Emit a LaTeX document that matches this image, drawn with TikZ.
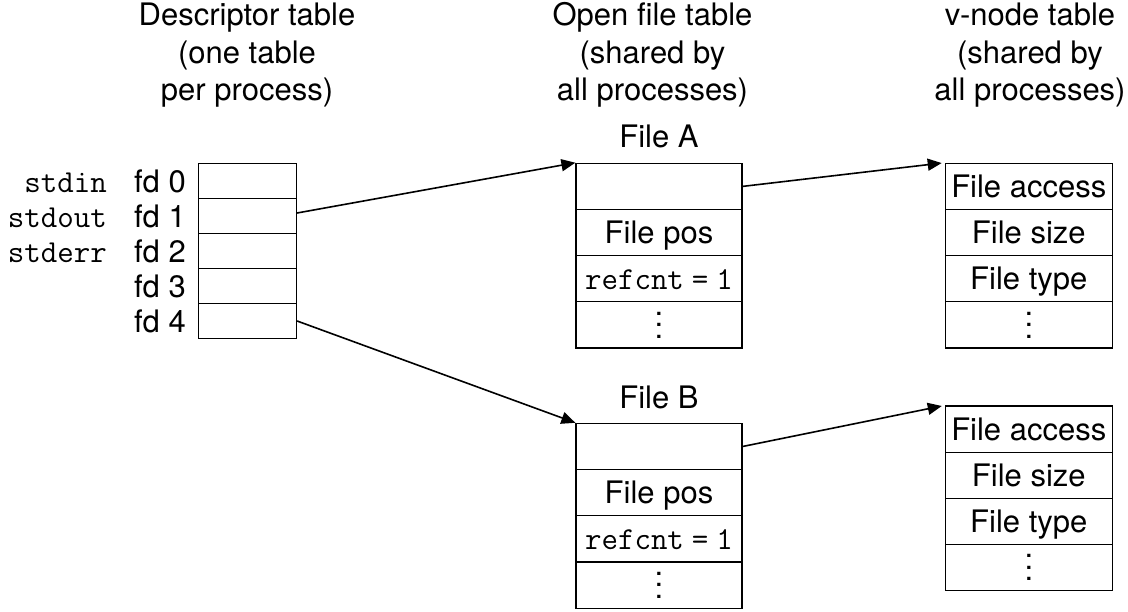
\documentclass[tikz,border=0pt]{standalone}
\usepackage{fontspec}
\setmainfont{TeX Gyre Heros}
\usetikzlibrary{arrows.meta}
% three stacked dots for the "more entries" rows
\newcommand{\moredots}{\vbox{\baselineskip=11.5pt\lineskiplimit=-20pt\hbox{.}\hbox{.}\hbox{.}}}
\newcommand{\bodyfont}{\fontsize{31}{37.5}\selectfont}
\newcommand{\codefont}{\fontsize{32}{37.5}\selectfont\ttfamily}
\newcommand{\refcount}{refcnt\kern8pt=\kern8pt1}

\begin{document}
\begin{tikzpicture}[x=1pt, y=-1pt,
  box/.style={draw, line width=1.2pt, inner sep=0pt, font=\bodyfont,
              text height=22pt, text depth=0pt},
  fdcell/.style={box, minimum width=98pt, minimum height=35pt},
  ofcell/.style={box, minimum width=166pt, minimum height=46.2pt},
  vncell/.style={box, minimum width=167pt, minimum height=46.2pt},
  dotsbox/.style={draw, line width=1.2pt, inner sep=0pt, font=\bodyfont},
  header/.style={font=\bodyfont, align=center, inner sep=0pt, anchor=base},
  fdlabel/.style={font=\bodyfont, inner sep=0pt, anchor=base east},
  stdlabel/.style={font=\codefont, inner sep=0pt, anchor=base east},
  title/.style={font=\bodyfont, inner sep=0pt, anchor=base},
  link/.style={line width=1.6pt, -{Triangle[length=14pt,width=12pt]}}
]
\useasboundingbox (0,0) rectangle (1128,612);

% column headings (base anchor sits on the last line)
\node[header] (hdesc) at (247,101) {Descriptor table\\(one table\\per process)};
\node[header] (hopen) at (652.5,101) {Open file table\\(shared by\\all processes)};
\node[header] (hvnode) at (1030,101) {v-node table\\(shared by\\all processes)};

% descriptor table
\node[fdcell] (d0) at (247.5,181) {};
\node[fdcell] (d1) at (247.5,216) {};
\node[fdcell] (d2) at (247.5,251) {};
\node[fdcell] (d3) at (247.5,286) {};
\node[fdcell] (d4) at (247.5,321) {};

\node[fdlabel] (l0) at (186,193) {fd 0};
\node[fdlabel] (l1) at (186,228) {fd 1};
\node[fdlabel] (l2) at (186,263) {fd 2};
\node[fdlabel] (l3) at (186,298) {fd 3};
\node[fdlabel] (l4) at (186,333) {fd 4};

\node[stdlabel] (sin) at (107,193) {stdin};
\node[stdlabel] (sout) at (107,228) {stdout};
\node[stdlabel] (serr) at (107,263) {stderr};

% open file table, entry A
\node[title] (ta) at (659,147.3) {File A};
\node[ofcell] (a1) at (659,186.4) {};
\node[ofcell] (a2) at (659,232.6) {File pos};
\node[ofcell, font=\codefont] (a3) at (659,278.8) {\refcount};
\node[dotsbox, minimum width=166pt, minimum height=46.2pt] (a4) at (659,325.0) {\moredots};

% open file table, entry B
\node[title] (tb) at (659,408.3) {File B};
\node[ofcell] (b1) at (659,446.5) {};
\node[ofcell] (b2) at (659,492.7) {File pos};
\node[ofcell, font=\codefont] (b3) at (659,538.9) {\refcount};
\node[dotsbox, minimum width=166pt, minimum height=46.2pt] (b4) at (659,585.1) {\moredots};

% v-node table, entry A
\node[vncell] (va1) at (1028.8,186.4) {File access};
\node[vncell] (va2) at (1028.8,232.6) {File size};
\node[vncell] (va3) at (1028.8,278.8) {File type};
\node[dotsbox, minimum width=167pt, minimum height=46.2pt] (va4) at (1028.8,325.0) {\moredots};

% v-node table, entry B
\node[vncell] (vb1) at (1028.8,429.1) {File access};
\node[vncell] (vb2) at (1028.8,475.3) {File size};
\node[vncell] (vb3) at (1028.8,521.5) {File type};
\node[dotsbox, minimum width=167pt, minimum height=46.2pt] (vb4) at (1028.8,567.7) {\moredots};

% references between tables
\draw[link] ([yshift=3pt]d1.east) -- (a1.north west);
\draw[link] (d4.east) -- (b1.north west);
\draw[link, shorten >=3pt] (a1.east) -- (va1.north west);
\draw[link, shorten >=3pt] (b1.east) -- (vb1.north west);
\end{tikzpicture}
\end{document}
